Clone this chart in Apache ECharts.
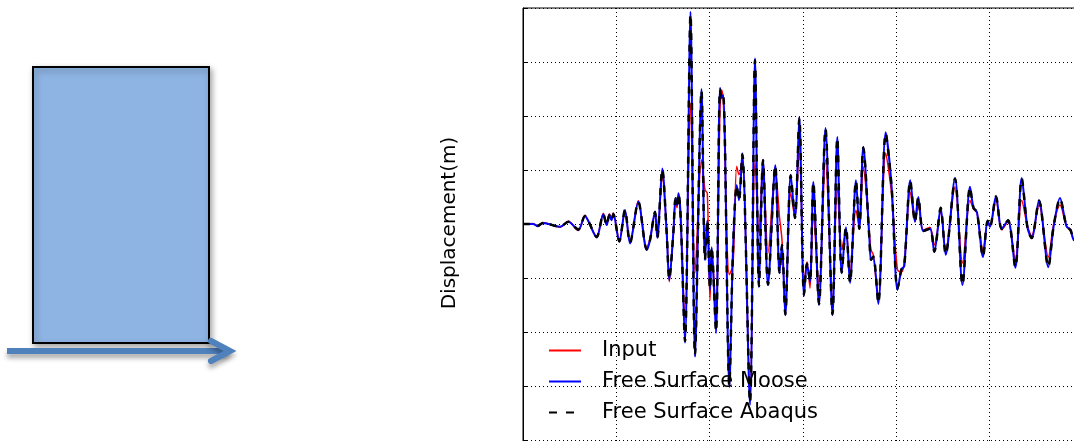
<!DOCTYPE html>
<html>
<head>
<meta charset="utf-8">
<script src="https://cdn.jsdelivr.net/npm/echarts@6/dist/echarts.min.js"></script>
<style>
  html, body { margin: 0; padding: 0; background: #fff; }
  #chart { width: 1074px; height: 441px; }
</style>
</head>
<body>
<div id="chart"></div>
<script>
// time (s)
var time = [
  0, 0.536, 0.804, 1.071, 1.982, 2.427, 2.962, 3.321, 3.482, 3.948,
  4.302, 4.484, 4.623, 4.741, 4.837, 5.159, 5.464, 5.732, 6.177, 6.627,
  6.803, 7.071, 7.195, 7.462, 7.698, 7.837, 8.052, 8.170, 8.250, 8.330,
  8.448, 8.678, 8.973, 9.214, 9.562, 9.750, 9.873, 10.018, 10.109, 10.339,
  10.553, 10.644, 10.730, 11.052, 11.250, 11.448, 11.571, 11.748, 12.161, 12.428,
  12.643, 12.857, 13.125, 13.516, 13.741, 13.875, 14.052, 14.341, 14.571, 14.802,
  15.053, 15.214, 15.375, 15.552, 15.857, 16.205, 16.580, 16.837, 17.073, 17.303,
  17.518, 17.839, 18.016, 18.230, 18.562, 18.643, 18.766, 19.034, 19.430, 19.752,
  20.062, 20.287, 20.427, 20.748, 21.000, 21.177, 21.444, 21.803, 22.034, 22.376,
  22.644, 23.142, 23.544, 23.946, 24.134, 24.321, 24.643, 24.894, 25.018, 25.339,
  25.645, 25.982, 26.373, 26.716, 27.027, 27.251, 27.643, 28.141, 28.420, 28.768,
  29.116, 29.330, 29.518, 29.839
];

var input = [
  0, 0.001, -0.004, 0.003, -0.006, 0.005, -0.012, 0.016, 0.006, -0.023,
  0.020, -0.001, 0.019, 0.008, 0.021, -0.030, 0.024, -0.033, 0.043, -0.044,
  -0.028, 0.020, -0.022, 0.085, -0.010, -0.107, -0.020, 0.045, 0.030, 0.052,
  0.005, -0.178, 0.224, -0.091, 0.119, 0.063, 0.057, -0.141, -0.048, -0.159,
  0.211, 0.248, 0.230, -0.094, -0.076, 0.107, 0.091, 0.119, -0.320, 0.119,
  -0.017, 0.119, -0.054, 0.100, 0.013, -0.030, -0.154, 0.057, 0.011, 0.156,
  -0.109, -0.070, -0.119, 0.020, -0.117, 0.119, -0.141, 0.069, -0.048, -0.011,
  -0.089, 0.026, -0.007, 0.106, -0.020, -0.048, -0.057, -0.141, 0.131, 0.054,
  -0.085, -0.089, -0.070, 0.059, 0.004, 0.035, -0.011, -0.006, -0.039, 0.022,
  -0.048, 0.069, -0.072, 0.044, 0.028, 0.020, -0.048, 0.006, -0.005, 0.044,
  -0.011, 0.004, -0.067, 0.044, -0.004, -0.022, 0.035, -0.061, -0.002, 0.035,
  -0.004, -0.013, -0.028, -0.015
];

var moose = [
  0, 0, -0.004, 0.002, -0.005, 0.004, -0.011, 0.015, 0.007, -0.025,
  0.018, -0.002, 0.017, 0.007, 0.019, -0.033, 0.026, -0.036, 0.041, -0.048,
  -0.030, 0.023, -0.026, 0.103, -0.017, -0.104, -0.017, 0.048, 0.035, 0.057,
  0.013, -0.220, 0.393, -0.246, 0.250, -0.067, 0.007, -0.122, -0.043, -0.202,
  0.252, 0.233, 0.239, -0.302, -0.048, 0.072, 0.044, 0.131, -0.335, 0.307,
  -0.117, 0.119, -0.113, 0.109, -0.091, -0.039, -0.169, 0.091, 0.011, 0.198,
  -0.133, -0.074, -0.107, 0.078, -0.150, 0.178, -0.169, 0.161, -0.091, -0.006,
  -0.109, 0.081, -0.009, 0.143, -0.030, -0.067, -0.061, -0.148, 0.170, 0.067,
  -0.122, -0.083, -0.078, 0.081, 0.004, 0.050, -0.013, -0.009, -0.052, 0.030,
  -0.057, 0.085, -0.113, 0.069, 0.030, 0.022, -0.061, 0.006, -0.005, 0.052,
  -0.009, 0.007, -0.081, 0.085, -0.007, -0.026, 0.044, -0.080, -0.006, 0.048,
  -0.004, -0.011, -0.030, -0.015
];

var abaqus = [
  0, 0, -0.003, 0.002, -0.005, 0.004, -0.010, 0.015, 0.007, -0.024,
  0.018, -0.002, 0.016, 0.007, 0.018, -0.032, 0.026, -0.035, 0.041, -0.047,
  -0.030, 0.022, -0.025, 0.101, -0.017, -0.102, -0.017, 0.047, 0.035, 0.056,
  0.013, -0.217, 0.388, -0.243, 0.247, -0.066, 0.007, -0.120, -0.043, -0.199,
  0.249, 0.231, 0.236, -0.298, -0.048, 0.071, 0.044, 0.129, -0.330, 0.303,
  -0.115, 0.118, -0.112, 0.108, -0.090, -0.039, -0.167, 0.090, 0.011, 0.196,
  -0.131, -0.073, -0.106, 0.077, -0.148, 0.176, -0.167, 0.159, -0.090, -0.006,
  -0.108, 0.080, -0.009, 0.141, -0.030, -0.066, -0.060, -0.146, 0.168, 0.066,
  -0.120, -0.082, -0.077, 0.080, 0.004, 0.049, -0.013, -0.009, -0.051, 0.030,
  -0.056, 0.084, -0.112, 0.068, 0.030, 0.022, -0.060, 0.006, -0.005, 0.051,
  -0.009, 0.007, -0.080, 0.084, -0.007, -0.026, 0.043, -0.079, -0.006, 0.047,
  -0.004, -0.011, -0.030, -0.015
];

var seriesNames = ['Input', 'Free Surface Moose', 'Free Surface Abaqus'];

function pairs(vals) {
  return time.map(function (t, i) { return [t, vals[i]]; });
}

var myChart = echarts.init(document.getElementById('chart'));

var font = 'DejaVu Sans';
var dots = { color: '#000', width: 1, type: [1, 3] };

var option = {
  animation: false,
  backgroundColor: '#fff',
  textStyle: { fontFamily: font },
  grid: {
    // plot is cropped on the right and at the bottom
    left: 523, top: 8, width: 560, height: 486,
    outerBoundsMode: 'none',
    containLabel: false,
    show: true, borderColor: '#000', borderWidth: 1,
    backgroundColor: 'transparent'
  },
  legend: {
    data: [
      { name: seriesNames[0] },
      { name: seriesNames[1] },
      { name: seriesNames[2], lineStyle: { type: [8, 9], width: 2 } }
    ],
    orient: 'vertical',
    left: 548, top: 340,
    padding: 0,
    itemWidth: 32, itemHeight: 10, itemGap: 10,
    itemStyle: { opacity: 0 },
    textStyle: { fontSize: 21, color: '#000', fontFamily: font, padding: [0, 0, 0, 16] },
    selectedMode: false
  },
  xAxis: {
    type: 'value', min: 0, max: 30, interval: 5,
    axisLabel: { show: false },
    axisLine: { show: false },
    axisTick: { show: false },
    splitLine: { show: true, lineStyle: dots }
  },
  yAxis: {
    type: 'value', min: -0.5, max: 0.4, interval: 0.1,
    name: 'Displacement(m)',
    nameLocation: 'middle',
    nameGap: 63,
    nameTextStyle: { fontSize: 20, color: '#000', fontFamily: font, padding: [0, 0, 0, 56] },
    axisLabel: { show: false },
    axisLine: { show: true, lineStyle: { color: '#000', width: 1 } },
    axisTick: { show: true, inside: true, length: 5, lineStyle: { color: '#000' } },
    splitLine: { show: true, lineStyle: dots }
  },
  series: [
    {
      name: seriesNames[0], type: 'line', data: pairs(input),
      symbol: 'none', smooth: 0.3, z: 2,
      lineStyle: { color: '#ff0000', width: 1.5 },
      itemStyle: { color: '#ff0000' }
    },
    {
      name: seriesNames[1], type: 'line', data: pairs(moose),
      symbol: 'none', smooth: 0.3, z: 3,
      lineStyle: { color: '#0000ff', width: 2 },
      itemStyle: { color: '#0000ff' }
    },
    {
      name: seriesNames[2], type: 'line', data: pairs(abaqus),
      symbol: 'none', smooth: 0.3, z: 4,
      lineStyle: { color: '#000', width: 2.5, type: [7, 7] },
      itemStyle: { color: '#000' }
    }
  ],
  // schematic on the left: soil column with base excitation arrow
  graphic: [
    {
      type: 'rect', left: 32, top: 66,
      shape: { width: 176, height: 276 },
      style: {
        fill: '#8EB4E3', stroke: '#000', lineWidth: 2,
        shadowBlur: 6, shadowColor: 'rgba(0,0,0,0.35)', shadowOffsetX: 2, shadowOffsetY: 3
      }
    },
    {
      type: 'polyline',
      shape: { points: [[7, 351], [228, 351]] },
      style: {
        stroke: '#4F81BD', lineWidth: 6, fill: null,
        shadowBlur: 5, shadowColor: 'rgba(0,0,0,0.35)', shadowOffsetY: 4
      }
    },
    {
      type: 'polyline',
      shape: { points: [[211, 341], [230, 351], [211, 361]] },
      style: {
        stroke: '#4F81BD', lineWidth: 6, fill: null, lineCap: 'round', lineJoin: 'miter',
        shadowBlur: 5, shadowColor: 'rgba(0,0,0,0.35)', shadowOffsetY: 4
      }
    }
  ]
};

myChart.setOption(option);
</script>
</body>
</html>
